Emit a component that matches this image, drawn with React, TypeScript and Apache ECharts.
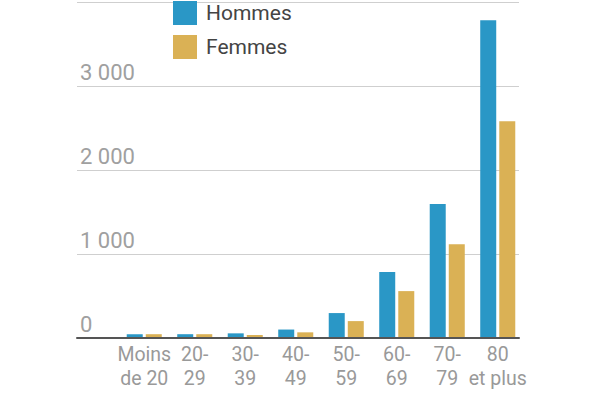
import React, { useEffect, useRef } from "react";
import * as echarts from "echarts";

const categories = ["Moins\nde 20", "20-\n29", "30-\n39", "40-\n49", "50-\n59", "60-\n69", "70-\n79", "80\net plus"];
const hommes = [45, 45, 55, 100, 295, 780, 1585, 3760];
const femmes = [45, 45, 35, 67, 200, 555, 1110, 2565];
const yTickValues = [0, 1000, 2000, 3000, 4000];
const yTickLabels = ["0", "1 000", "2 000", "3 000", ""];

const BLUE = "#2a97c6";
const GOLD = "#dab155";
const FONT = "Roboto, 'Noto Sans', sans-serif";

export default function App() {
  const ref = useRef<HTMLDivElement>(null);
  useEffect(() => {
    if (!ref.current) return;
    const chart = echarts.init(ref.current, null, { renderer: "svg" });
    chart.setOption({
      animation: false,
      backgroundColor: "#ffffff",
      textStyle: { fontFamily: FONT },
      legend: {
        orient: "vertical",
        left: 173,
        top: 1,
        itemWidth: 24,
        itemHeight: 24,
        itemGap: 10,
        icon: "rect",
        padding: 0,
        textStyle: { fontSize: 21, color: "#444", lineHeight: 24, fontFamily: FONT, padding: [0, 0, 0, 4] },
        data: ["Hommes", "Femmes"],
      },
      grid: [
        { left: 77, right: 81, top: 0, bottom: 60 },
        { left: 119, right: 77, top: 0, bottom: 60 },
      ],
      xAxis: [
        {
          gridIndex: 0,
          type: "value",
          min: 0,
          max: 1,
          axisLine: { show: true, lineStyle: { color: "#555", width: 2 } },
          axisTick: { show: false },
          axisLabel: { show: false },
          splitLine: { show: false },
          z: 5,
        },
        {
          gridIndex: 1,
          type: "category",
          data: categories,
          axisLine: { show: false },
          axisTick: { show: false },
          axisLabel: {
            interval: 0,
            color: "#999",
            fontSize: 19.5,
            lineHeight: 24,
            margin: 4,
            align: "center",
            fontFamily: FONT,
          },
        },
      ],
      yAxis: [
        {
          gridIndex: 0,
          type: "value",
          min: 0,
          max: 4000,
          interval: 1000,
          axisLine: { show: false },
          axisTick: { show: false },
          axisLabel: {
            inside: true,
            margin: 3,
            color: "#a0a0a0",
            fontSize: 22,
            lineHeight: 24,
            verticalAlign: "bottom",
            padding: [0, 0, 2, 0],
            fontFamily: FONT,
            formatter: (v: number) => {
              const i = yTickValues.indexOf(v);
              return i >= 0 ? yTickLabels[i] : "";
            },
          },
          splitLine: { show: true, showMinLine: false, lineStyle: { color: "#cfcfcf", width: 1 } },
        },
        {
          gridIndex: 1,
          type: "value",
          min: 0,
          max: 4000,
          interval: 1000,
          show: false,
          splitLine: { show: false },
        },
      ],
      series: [
        {
          name: "Hommes",
          type: "bar",
          xAxisIndex: 1,
          yAxisIndex: 1,
          data: hommes,
          barWidth: 16,
          barGap: "19%",
          itemStyle: { color: BLUE },
        },
        {
          name: "Femmes",
          type: "bar",
          xAxisIndex: 1,
          yAxisIndex: 1,
          data: femmes,
          barWidth: 16,
          barGap: "19%",
          itemStyle: { color: GOLD },
        },
      ],
    });
    return () => chart.dispose();
  }, []);
  return <div ref={ref} style={{ width: 600, height: 398, position: "absolute", left: 0, top: 0 }} />;
}
